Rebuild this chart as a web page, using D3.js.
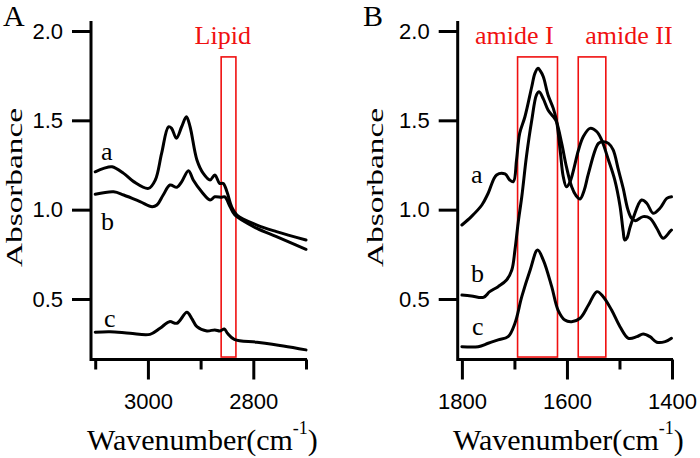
<!DOCTYPE html>
<html><head><meta charset="utf-8">
<script src="https://cdn.jsdelivr.net/npm/d3@7/dist/d3.min.js"></script>
<style>html,body{margin:0;padding:0;background:#fff;}svg{display:block;}</style>
</head><body>
<svg id="chart" width="700" height="458"></svg>
<script>
// ---------- data ----------
const aWnA = [3100,3084,3068,3046,3027,2999,2986,2974,2961,2955,2946,2936,2927,2920,2907,2895,2882,2873,2864,2857,2850,2841,2831,2793,2756,2700];
const aAbsA = [1.212,1.231,1.240,1.203,1.157,1.119,1.166,1.315,1.464,1.455,1.400,1.464,1.520,1.464,1.278,1.203,1.166,1.194,1.147,1.147,1.100,1.016,0.970,0.914,0.877,0.830];
const bWnA = [3100,3065,3046,3015,2992,2983,2971,2958,2945,2936,2923,2914,2898,2882,2873,2860,2854,2844,2835,2793,2756,2700];
const bAbsA = [1.086,1.100,1.082,1.045,1.016,1.026,1.082,1.138,1.125,1.156,1.218,1.166,1.100,1.054,1.072,1.069,1.072,1.016,0.970,0.895,0.849,0.778];
const cWnA = [3100,3072,3034,2996,2977,2959,2945,2926,2917,2907,2888,2873,2863,2855,2849,2836,2793,2743,2700];
const cAbsA = [0.314,0.317,0.308,0.302,0.336,0.373,0.364,0.426,0.392,0.345,0.321,0.327,0.321,0.332,0.308,0.274,0.258,0.237,0.215];

const aWnB = [1800,1782,1762,1750,1734,1718,1709,1702,1696,1690,1680,1667,1661,1655,1651,1645,1636,1626,1620,1613,1607,1601,1594,1578,1569,1556,1543,1534,1521,1509,1499,1493,1490,1486,1480,1474,1458,1448,1436,1423,1410,1401];
const aAbsB = [0.914,0.961,1.026,1.092,1.194,1.200,1.166,1.157,1.278,1.427,1.520,1.688,1.763,1.791,1.778,1.744,1.642,1.567,1.500,1.334,1.184,1.128,1.157,1.334,1.408,1.455,1.436,1.390,1.278,1.166,1.020,0.880,0.830,0.840,0.900,0.952,1.054,1.036,0.980,1.008,1.063,1.072];
const bWnB = [1800,1782,1759,1747,1731,1715,1705,1699,1693,1686,1677,1667,1658,1653,1645,1636,1626,1620,1610,1601,1591,1583,1575,1567,1559,1540,1531,1521,1512,1502,1493,1484,1477,1470,1455,1442,1429,1417,1404,1401];
const bAbsB = [0.522,0.517,0.509,0.541,0.569,0.606,0.662,0.774,0.924,1.072,1.300,1.500,1.642,1.660,1.620,1.558,1.520,1.492,1.371,1.240,1.128,1.080,1.060,1.110,1.203,1.371,1.380,1.371,1.334,1.222,1.120,1.000,0.952,0.938,0.961,0.952,0.896,0.840,0.877,0.886];
const cWnB = [1800,1769,1750,1731,1712,1699,1686,1670,1656,1645,1629,1617,1604,1591,1575,1559,1543,1531,1515,1499,1483,1467,1455,1442,1429,1413,1401];
const cAbsB = [0.233,0.233,0.252,0.271,0.289,0.364,0.513,0.662,0.774,0.718,0.569,0.438,0.382,0.373,0.392,0.466,0.541,0.513,0.438,0.345,0.280,0.289,0.304,0.289,0.258,0.261,0.280];

const yTicks = [0.5, 1.0, 1.5, 2.0];
const xMajorA = [3000, 2800], xMinorA = [3100, 2900, 2700];
const xMajorB = [1800, 1600, 1400], xMinorB = [1700, 1500];
const curveNames = ["a", "b", "c"];
const lipidBox = [2861, 2833];
const amideBoxes = [[1694, 1618], [1578.5, 1526]];
const boxAbs = [0.175, 1.855];
const boxLabelsA = [{text: "Lipid", wn: 2858}];
const boxLabelsB = [{text: "amide I", wn: 1700}, {text: "amide II", wn: 1482}];

// ---------- drawing ----------
const svg = d3.select("#chart");
const serif = "'Liberation Serif','Times New Roman',serif";
const sans = "'Liberation Sans',Arial,sans-serif";

function panel(opt) {
  const g = svg.append("g");
  const x = d3.scaleLinear().domain(opt.xDomain).range(opt.xRange);
  const y = d3.scaleLinear().domain([0.164, 2.056]).range([359, 21]);
  const x0 = opt.xRange[0], x1 = opt.xRange[1];

  // red boxes
  opt.boxes.forEach(b => {
    g.append("rect")
      .attr("x", x(b[0])).attr("width", x(b[1]) - x(b[0]))
      .attr("y", y(boxAbs[1])).attr("height", y(boxAbs[0]) - y(boxAbs[1]))
      .attr("fill", "none").attr("stroke", "#f01010").attr("stroke-width", 1.6);
  });
  opt.boxLabels.forEach(l => {
    g.append("text").attr("x", x(l.wn)).attr("y", 44).attr("text-anchor", "middle")
      .attr("font-family", serif).attr("font-size", 26).attr("fill", "#f01010").text(l.text);
  });

  // curves
  const line = d3.line().x(d => x(d[0])).y(d => y(d[1])).curve(d3.curveCatmullRom.alpha(0.5));
  opt.series.forEach(s => {
    g.append("path").datum(d3.zip(s[0], s[1])).attr("d", line)
      .attr("fill", "none").attr("stroke", "#000").attr("stroke-width", 3)
      .attr("stroke-linejoin", "round").attr("stroke-linecap", "round");
  });

  // axes
  const yAxis = d3.axisLeft(y).tickValues(yTicks).tickSize(19).tickPadding(9).tickFormat(d3.format(".1f"));
  const ya = g.append("g").attr("transform", `translate(${x0},0)`).call(yAxis);
  const xMaj = d3.axisBottom(x).tickValues(opt.xMajor).tickSize(20).tickPadding(14).tickFormat(d3.format("d"));
  const xa = g.append("g").attr("transform", `translate(0,359.5)`).call(xMaj);
  const xMin = d3.axisBottom(x).tickValues(opt.xMinor).tickSize(10).tickFormat("");
  const xm = g.append("g").attr("transform", `translate(0,359.5)`).call(xMin);
  [ya, xa, xm].forEach(a => {
    a.select(".domain").remove();
    a.selectAll("line").attr("stroke", "#000").attr("stroke-width", 3);
    a.selectAll("text").attr("font-family", sans).attr("font-size", 22).attr("fill", "#000");
  });
  g.append("path").attr("d", `M${x0},21V359.5H${x1 + 1}`)
    .attr("fill", "none").attr("stroke", "#000").attr("stroke-width", 3);

  // axis titles
  g.append("text").attr("transform", `translate(${opt.yTitleX},187.5) rotate(-90)`)
    .attr("text-anchor", "middle").attr("font-family", serif).attr("font-size", 24)
    .attr("textLength", 159).attr("lengthAdjust", "spacingAndGlyphs").text("Absorbance");
  const xt = g.append("text").attr("x", opt.xTitleX).attr("y", 450)
    .attr("font-family", serif).attr("font-size", 30);
  xt.append("tspan").text("Wavenumber(cm");
  xt.append("tspan").attr("font-size", 18).attr("dy", -16).text("-1");
  xt.append("tspan").attr("dy", 16).text(")");

  // panel letter
  g.append("text").attr("x", opt.letterX).attr("y", 26).attr("font-family", serif)
    .attr("font-size", 30).text(opt.letter);

  // curve labels
  opt.labels.forEach((p, i) => {
    g.append("text").attr("x", p[0]).attr("y", p[1]).attr("font-family", serif)
      .attr("font-size", 26).text(curveNames[i]);
  });
}

panel({
  xDomain: [3108, 2700], xRange: [91, 306],
  xMajor: xMajorA, xMinor: xMinorA,
  series: [[aWnA, aAbsA], [bWnA, bAbsA], [cWnA, cAbsA]],
  boxes: [lipidBox], boxLabels: boxLabelsA,
  yTitleX: 22, xTitleX: 87, letter: "A", letterX: 3,
  labels: [[101, 160], [101, 230], [104, 327]]
});
panel({
  xDomain: [1808, 1400], xRange: [457.7, 672],
  xMajor: xMajorB, xMinor: xMinorB,
  series: [[aWnB, aAbsB], [bWnB, bAbsB], [cWnB, cAbsB]],
  boxes: amideBoxes, boxLabels: boxLabelsB,
  yTitleX: 383, xTitleX: 453, letter: "B", letterX: 363,
  labels: [[471, 183], [471, 282], [472, 335]]
});
</script>
</body></html>
